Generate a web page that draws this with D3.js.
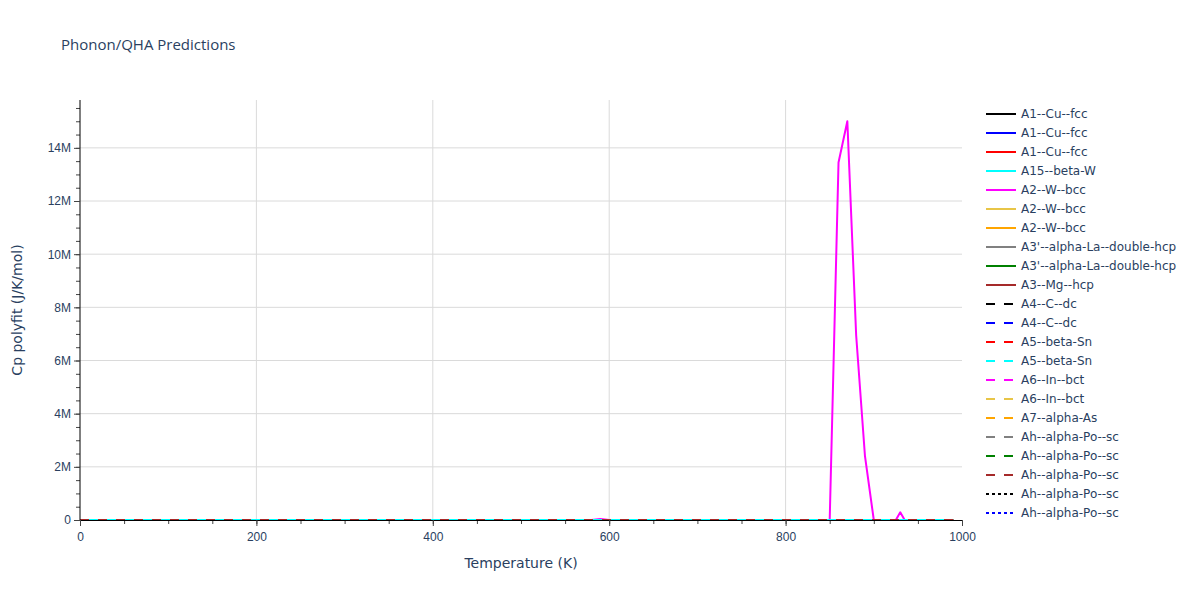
<!DOCTYPE html>
<html>
<head>
<meta charset="utf-8">
<script src="https://cdn.jsdelivr.net/npm/d3@7"></script>
<style>
  body { margin: 0; background: #fff; }
  svg { font-family: "DejaVu Sans", verdana, arial, sans-serif; }
</style>
</head>
<body>
<svg id="chart" width="1200" height="600"></svg>
<script>
// legend names, in legend order
const seriesNames = [
  "A1--Cu--fcc", "A1--Cu--fcc", "A1--Cu--fcc", "A15--beta-W", "A2--W--bcc",
  "A2--W--bcc", "A2--W--bcc", "A3'--alpha-La--double-hcp", "A3'--alpha-La--double-hcp", "A3--Mg--hcp",
  "A4--C--dc", "A4--C--dc", "A5--beta-Sn", "A5--beta-Sn", "A6--In--bct",
  "A6--In--bct", "A7--alpha-As", "Ah--alpha-Po--sc", "Ah--alpha-Po--sc", "Ah--alpha-Po--sc",
  "Ah--alpha-Po--sc", "Ah--alpha-Po--sc"
];
const seriesColors = [
  "#000000", "#0000ff", "#ff0000", "#00ffff", "#ff00ff",
  "#e8c547", "#ffa500", "#808080", "#008000", "#a52a2a",
  "#000000", "#0000ff", "#ff0000", "#00ffff", "#ff00ff",
  "#e8c547", "#ffa500", "#808080", "#008000", "#a52a2a",
  "#000000", "#0000ff"
];
const seriesDash = [
  "solid", "solid", "solid", "solid", "solid", "solid", "solid", "solid", "solid", "solid",
  "dash", "dash", "dash", "dash", "dash", "dash", "dash", "dash", "dash", "dash",
  "dot", "dot"
];

// temperatures (K) and Cp values (J/K/mol); at this scale everything but A2 (magenta) sits on zero
const baseTemps = [0, 100, 200, 300, 400, 500, 600, 700, 800, 900, 990];
const baseCp = [0, 0, 0, 0, 0, 0, 0, 0, 0, 0, 0];
const spikeTemps = [0, 580, 590, 600, 850, 860, 870, 880, 890, 900, 925, 930, 935, 990];
const spikeCp = [0, 0, 40000, 0, 0, 13450000, 15000000, 6950000, 2400000, 0, 0, 290000, 0, 0];

// x / y ticks
const xMajorTicks = [0, 200, 400, 600, 800, 1000];
const yMajorTicks = [0, 2e6, 4e6, 6e6, 8e6, 10e6, 12e6, 14e6];

const series = seriesNames.map((name, i) => {
  const temps = i === 4 ? spikeTemps : baseTemps;
  const vals = i === 4 ? spikeCp : baseCp;
  return { name, color: seriesColors[i], dash: seriesDash[i], points: temps.map((t, j) => ({ t, cp: vals[j] })) };
});

// draw order: the cyan solid and brown dashed lines end up on top of the baseline
const drawOrder = [0, 1, 2, 4, 5, 6, 7, 8, 9, 10, 11, 12, 14, 15, 16, 17, 18, 20, 21, 13, 3, 19];

const margin = { top: 100, left: 80 };
const w = 882, h = 420;
const textColor = "#2a3f5f";

const svg = d3.select("#chart");
const g = svg.append("g").attr("transform", `translate(${margin.left},${margin.top})`);

const xScale = d3.scaleLinear().domain([0, 1000]).range([0, w]);
const yScale = d3.scaleLinear().domain([0, 15.8e6]).range([h, 0]);

// gridlines
g.selectAll(".xgrid").data(xMajorTicks.filter(d => d > 0 && d < 1000)).join("line")
  .attr("x1", d => xScale(d)).attr("x2", d => xScale(d))
  .attr("y1", 0).attr("y2", h)
  .attr("stroke", "#dadada").attr("stroke-width", 1);
g.selectAll(".ygrid").data(yMajorTicks.filter(d => d > 0)).join("line")
  .attr("x1", 0).attr("x2", w)
  .attr("y1", d => yScale(d)).attr("y2", d => yScale(d))
  .attr("stroke", "#dadada").attr("stroke-width", 1);

// lines
const dashArray = { solid: null, dash: "9,9", dot: "3,3" };
const line = d3.line().x(d => xScale(d.t)).y(d => yScale(d.cp));
g.append("g").attr("class", "lines")
  .selectAll("path")
  .data(drawOrder.map(i => series[i]))
  .join("path")
  .attr("d", d => line(d.points))
  .attr("fill", "none")
  .attr("stroke", d => d.color)
  .attr("stroke-width", 2)
  .attr("stroke-dasharray", d => dashArray[d.dash])
  .attr("stroke-linejoin", "round");

// x axis: minor ticks every 50, labels every 200
const xAxisMinor = d3.axisBottom(xScale).tickValues(d3.range(0, 1001, 50)).tickSize(4).tickFormat("");
const xAxis = d3.axisBottom(xScale).tickValues(xMajorTicks).tickSize(6).tickPadding(6).tickFormat(d => d);
g.append("g").attr("transform", `translate(0,${h})`).call(xAxisMinor)
  .call(a => a.select(".domain").remove())
  .selectAll("line").attr("stroke", "#444");
const xg = g.append("g").attr("transform", `translate(0,${h})`).call(xAxis);
xg.select(".domain").attr("stroke", "#000").attr("stroke-width", 1);
xg.selectAll("line").attr("stroke", "#444");
xg.selectAll("text").attr("fill", textColor).style("font-size", "12px");

// y axis: minor ticks every 0.5M
const yAxisMinor = d3.axisLeft(yScale).tickValues(d3.range(0, 15.6e6, 0.5e6)).tickSize(4).tickFormat("");
const yAxis = d3.axisLeft(yScale).tickValues(yMajorTicks).tickSize(6).tickPadding(3).tickFormat(d3.format("~s"));
g.append("g").call(yAxisMinor)
  .call(a => a.select(".domain").remove())
  .selectAll("line").attr("stroke", "#444");
const yg = g.append("g").call(yAxis);
yg.select(".domain").attr("d", `M0,0V${h}`).attr("stroke", "#000");
yg.selectAll("line").attr("stroke", "#444");
yg.selectAll("text").attr("fill", textColor).style("font-size", "12px");

// titles
svg.append("text").attr("x", 61).attr("y", 50)
  .attr("fill", textColor).style("font-family", "'Open Sans', sans-serif").style("font-size", "15px")
  .text("Phonon/QHA Predictions");
svg.append("text").attr("x", margin.left + w / 2).attr("y", 568)
  .attr("text-anchor", "middle").attr("fill", textColor).style("font-size", "14px")
  .text("Temperature (K)");
svg.append("text")
  .attr("transform", `translate(22,${margin.top + h / 2}) rotate(-90)`)
  .attr("text-anchor", "middle").attr("fill", textColor).style("font-size", "14px")
  .text("Cp polyfit (J/K/mol)");

// legend
const legend = svg.append("g").selectAll("g")
  .data(series)
  .join("g")
  .attr("transform", (d, i) => `translate(986,${114 + i * 19})`);
legend.append("line")
  .attr("x1", 0).attr("x2", 30).attr("y1", 0).attr("y2", 0)
  .attr("stroke", d => d.color).attr("stroke-width", 2)
  .attr("stroke-dasharray", d => dashArray[d.dash]);
legend.append("text")
  .attr("x", 35).attr("y", 4)
  .attr("fill", textColor).style("font-size", "12px")
  .text(d => d.name);
</script>
</body>
</html>
